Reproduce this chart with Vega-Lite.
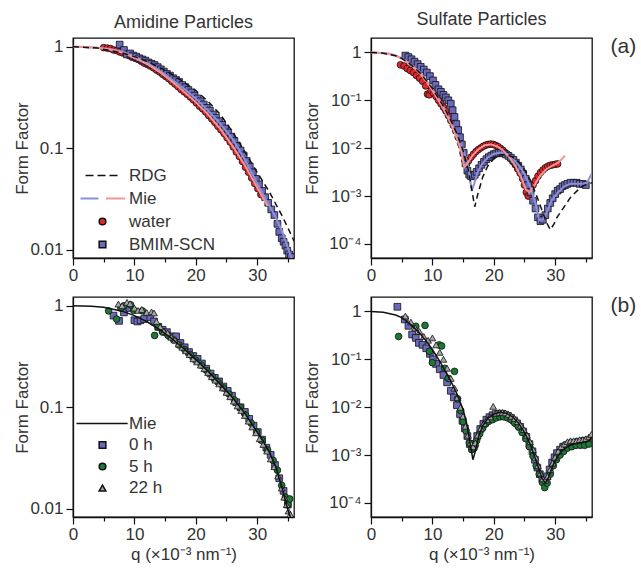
{
"$schema":"https://vega.github.io/schema/vega-lite/v6.json",
"background":"white",
"padding":{"left":13,"top":10,"right":0,"bottom":5},
"config":{
 "font":"Liberation Sans",
 "view":{"stroke":"#111","strokeWidth":1.3},
 "axis":{"domainColor":"#111","domainWidth":1.3,"tickColor":"#111","tickWidth":1.2,"labelColor":"#333","titleColor":"#333","labelFontSize":17,"titleFontSize":17,"titleFontWeight":"normal","grid":false},
 "title":{"fontSize":18,"fontWeight":"normal","color":"#333","offset":6},
 "legend":{"labelFontSize":17,"labelColor":"#333"}
},
"datasets":{
"tl":[
{"s":"water","q":5.0,"f":0.98},{"s":"water","q":5.6,"f":0.97},{"s":"water","q":6.1,"f":0.96},{"s":"water","q":6.6,"f":0.93},{"s":"water","q":7.1,"f":0.92},{"s":"water","q":7.6,"f":0.89},{"s":"water","q":8.1,"f":0.87},{"s":"water","q":8.6,"f":0.85},{"s":"water","q":9.1,"f":0.82},{"s":"water","q":9.6,"f":0.79},{"s":"water","q":10.1,"f":0.77},{"s":"water","q":10.6,"f":0.75},{"s":"water","q":11.1,"f":0.72},{"s":"water","q":11.6,"f":0.69},{"s":"water","q":12.1,"f":0.67},{"s":"water","q":12.6,"f":0.645},{"s":"water","q":13.1,"f":0.62},{"s":"water","q":13.6,"f":0.59},{"s":"water","q":14.1,"f":0.565},{"s":"water","q":14.6,"f":0.535},{"s":"water","q":15.1,"f":0.51},{"s":"water","q":15.6,"f":0.485},{"s":"water","q":16.1,"f":0.455},{"s":"water","q":16.6,"f":0.43},{"s":"water","q":17.1,"f":0.405},{"s":"water","q":17.6,"f":0.38},{"s":"water","q":18.1,"f":0.36},{"s":"water","q":18.6,"f":0.34},{"s":"water","q":19.1,"f":0.32},{"s":"water","q":19.6,"f":0.3},{"s":"water","q":20.1,"f":0.28},{"s":"water","q":20.6,"f":0.26},{"s":"water","q":21.1,"f":0.245},{"s":"water","q":21.6,"f":0.228},{"s":"water","q":22.1,"f":0.21},{"s":"water","q":22.6,"f":0.195},{"s":"water","q":23.1,"f":0.18},{"s":"water","q":23.6,"f":0.165},{"s":"water","q":24.1,"f":0.152},{"s":"water","q":24.6,"f":0.14},{"s":"water","q":25.1,"f":0.127},{"s":"water","q":25.6,"f":0.115},{"s":"water","q":26.1,"f":0.103},{"s":"water","q":26.6,"f":0.092},{"s":"water","q":27.1,"f":0.083},{"s":"water","q":27.6,"f":0.074},{"s":"water","q":28.1,"f":0.065},{"s":"water","q":28.6,"f":0.058},{"s":"water","q":29.1,"f":0.051},{"s":"water","q":29.6,"f":0.045},{"s":"water","q":30.1,"f":0.04},{"s":"water","q":30.6,"f":0.035},
{"s":"BMIM-SCN","q":7.6,"f":1.05},{"s":"BMIM-SCN","q":8.3,"f":0.93},{"s":"BMIM-SCN","q":8.8,"f":0.84},{"s":"BMIM-SCN","q":9.3,"f":0.86},{"s":"BMIM-SCN","q":9.8,"f":0.82},{"s":"BMIM-SCN","q":10.3,"f":0.8},{"s":"BMIM-SCN","q":10.8,"f":0.77},{"s":"BMIM-SCN","q":11.3,"f":0.75},{"s":"BMIM-SCN","q":11.8,"f":0.73},{"s":"BMIM-SCN","q":12.3,"f":0.7},{"s":"BMIM-SCN","q":12.8,"f":0.68},{"s":"BMIM-SCN","q":13.3,"f":0.66},{"s":"BMIM-SCN","q":13.8,"f":0.63},{"s":"BMIM-SCN","q":14.3,"f":0.6},{"s":"BMIM-SCN","q":14.8,"f":0.57},{"s":"BMIM-SCN","q":15.3,"f":0.54},{"s":"BMIM-SCN","q":15.8,"f":0.52},{"s":"BMIM-SCN","q":16.3,"f":0.49},{"s":"BMIM-SCN","q":16.8,"f":0.47},{"s":"BMIM-SCN","q":17.3,"f":0.45},{"s":"BMIM-SCN","q":17.8,"f":0.42},{"s":"BMIM-SCN","q":18.3,"f":0.4},{"s":"BMIM-SCN","q":18.8,"f":0.375},{"s":"BMIM-SCN","q":19.3,"f":0.355},{"s":"BMIM-SCN","q":19.8,"f":0.33},{"s":"BMIM-SCN","q":20.3,"f":0.31},{"s":"BMIM-SCN","q":20.8,"f":0.29},{"s":"BMIM-SCN","q":21.3,"f":0.27},{"s":"BMIM-SCN","q":21.8,"f":0.25},{"s":"BMIM-SCN","q":22.3,"f":0.235},{"s":"BMIM-SCN","q":22.8,"f":0.215},{"s":"BMIM-SCN","q":23.3,"f":0.2},{"s":"BMIM-SCN","q":23.8,"f":0.185},{"s":"BMIM-SCN","q":24.3,"f":0.17},{"s":"BMIM-SCN","q":24.8,"f":0.157},{"s":"BMIM-SCN","q":25.3,"f":0.143},{"s":"BMIM-SCN","q":25.8,"f":0.13},{"s":"BMIM-SCN","q":26.3,"f":0.118},{"s":"BMIM-SCN","q":26.8,"f":0.105},{"s":"BMIM-SCN","q":27.3,"f":0.095},{"s":"BMIM-SCN","q":27.8,"f":0.085},{"s":"BMIM-SCN","q":28.3,"f":0.075},{"s":"BMIM-SCN","q":28.8,"f":0.066},{"s":"BMIM-SCN","q":29.3,"f":0.058},{"s":"BMIM-SCN","q":29.8,"f":0.05},{"s":"BMIM-SCN","q":30.3,"f":0.044},{"s":"BMIM-SCN","q":30.8,"f":0.038},{"s":"BMIM-SCN","q":31.3,"f":0.033},{"s":"BMIM-SCN","q":31.8,"f":0.029},{"s":"BMIM-SCN","q":32.3,"f":0.025},{"s":"BMIM-SCN","q":32.8,"f":0.022},{"s":"BMIM-SCN","q":33.3,"f":0.018},{"s":"BMIM-SCN","q":33.6,"f":0.015},{"s":"BMIM-SCN","q":34.0,"f":0.013},{"s":"BMIM-SCN","q":34.3,"f":0.012},{"s":"BMIM-SCN","q":34.6,"f":0.011},{"s":"BMIM-SCN","q":34.9,"f":0.0098},{"s":"BMIM-SCN","q":35.2,"f":0.009},{"s":"BMIM-SCN","q":35.5,"f":0.0085},
{"s":"MieB","q":0,"f":1},{"s":"MieB","q":2,"f":0.995},{"s":"MieB","q":4,"f":0.98},{"s":"MieB","q":6,"f":0.95},{"s":"MieB","q":8,"f":0.9},{"s":"MieB","q":10,"f":0.8},{"s":"MieB","q":12,"f":0.7},{"s":"MieB","q":14,"f":0.59},{"s":"MieB","q":16,"f":0.48},{"s":"MieB","q":18,"f":0.39},{"s":"MieB","q":20,"f":0.31},{"s":"MieB","q":22,"f":0.235},{"s":"MieB","q":24,"f":0.175},{"s":"MieB","q":26,"f":0.123},{"s":"MieB","q":28,"f":0.077},{"s":"MieB","q":30,"f":0.045},{"s":"MieB","q":31,"f":0.035},{"s":"MieB","q":32,"f":0.027},{"s":"MieB","q":33,"f":0.021},{"s":"MieB","q":34,"f":0.0155},{"s":"MieB","q":35,"f":0.0105},{"s":"MieB","q":35.6,"f":0.0083},
{"s":"MieW","q":0,"f":1},{"s":"MieW","q":2,"f":0.995},{"s":"MieW","q":4,"f":0.975},{"s":"MieW","q":6,"f":0.94},{"s":"MieW","q":8,"f":0.88},{"s":"MieW","q":10,"f":0.78},{"s":"MieW","q":12,"f":0.68},{"s":"MieW","q":14,"f":0.57},{"s":"MieW","q":16,"f":0.46},{"s":"MieW","q":18,"f":0.365},{"s":"MieW","q":20,"f":0.285},{"s":"MieW","q":22,"f":0.215},{"s":"MieW","q":24,"f":0.155},{"s":"MieW","q":26,"f":0.105},{"s":"MieW","q":28,"f":0.068},{"s":"MieW","q":30,"f":0.041},{"s":"MieW","q":31,"f":0.032},{"s":"MieW","q":31.7,"f":0.027},
{"s":"RDG","q":0,"f":1},{"s":"RDG","q":4,"f":0.97},{"s":"RDG","q":8,"f":0.87},{"s":"RDG","q":10,"f":0.8},{"s":"RDG","q":12,"f":0.72},{"s":"RDG","q":14,"f":0.63},{"s":"RDG","q":16,"f":0.54},{"s":"RDG","q":18,"f":0.45},{"s":"RDG","q":20,"f":0.37},{"s":"RDG","q":22,"f":0.29},{"s":"RDG","q":24,"f":0.215},{"s":"RDG","q":26,"f":0.145},{"s":"RDG","q":28,"f":0.092},{"s":"RDG","q":30,"f":0.058},{"s":"RDG","q":32,"f":0.037},{"s":"RDG","q":34,"f":0.022},{"s":"RDG","q":35,"f":0.0165},{"s":"RDG","q":36,"f":0.0122}
],
"tr":[
{"s":"water","q":4.8,"f":0.55},{"s":"water","q":5.4,"f":0.52},{"s":"water","q":5.9,"f":0.46},{"s":"water","q":6.4,"f":0.42},{"s":"water","q":6.9,"f":0.38},{"s":"water","q":7.4,"f":0.33},{"s":"water","q":7.9,"f":0.29},{"s":"water","q":8.4,"f":0.25},{"s":"water","q":8.9,"f":0.2},{"s":"water","q":9.2,"f":0.135},{"s":"water","q":9.5,"f":0.13},{"s":"water","q":9.8,"f":0.16},{"s":"water","q":10.2,"f":0.14},{"s":"water","q":10.6,"f":0.12},{"s":"water","q":11.0,"f":0.1},{"s":"water","q":11.4,"f":0.085},{"s":"water","q":11.8,"f":0.072},{"s":"water","q":12.2,"f":0.06},{"s":"water","q":12.6,"f":0.048},{"s":"water","q":13.0,"f":0.038},{"s":"water","q":13.4,"f":0.03},{"s":"water","q":13.8,"f":0.023},{"s":"water","q":14.2,"f":0.017},{"s":"water","q":14.6,"f":0.0125},{"s":"water","q":15.0,"f":0.008},{"s":"water","q":15.3,"f":0.0055},{"s":"water","q":15.6,"f":0.0048},{"s":"water","q":15.9,"f":0.0055},{"s":"water","q":16.3,"f":0.0065},{"s":"water","q":16.7,"f":0.0075},{"s":"water","q":17.1,"f":0.0085},{"s":"water","q":17.5,"f":0.0094},{"s":"water","q":17.9,"f":0.0102},{"s":"water","q":18.3,"f":0.011},{"s":"water","q":18.7,"f":0.0116},{"s":"water","q":19.1,"f":0.012},{"s":"water","q":19.5,"f":0.0122},{"s":"water","q":19.9,"f":0.012},{"s":"water","q":20.3,"f":0.0115},{"s":"water","q":20.7,"f":0.0108},{"s":"water","q":21.1,"f":0.0099},{"s":"water","q":21.5,"f":0.009},{"s":"water","q":21.9,"f":0.008},{"s":"water","q":22.3,"f":0.0071},{"s":"water","q":22.7,"f":0.0062},{"s":"water","q":23.1,"f":0.0053},{"s":"water","q":23.5,"f":0.0045},{"s":"water","q":23.9,"f":0.0037},{"s":"water","q":24.3,"f":0.003},{"s":"water","q":24.7,"f":0.0023},{"s":"water","q":25.0,"f":0.0017},{"s":"water","q":25.3,"f":0.0012},{"s":"water","q":25.6,"f":0.001},{"s":"water","q":26.0,"f":0.0013},{"s":"water","q":26.4,"f":0.0017},{"s":"water","q":26.8,"f":0.0021},{"s":"water","q":27.2,"f":0.0026},{"s":"water","q":27.6,"f":0.0031},{"s":"water","q":28.0,"f":0.0035},{"s":"water","q":28.4,"f":0.0039},{"s":"water","q":28.8,"f":0.0042},{"s":"water","q":29.2,"f":0.0044},{"s":"water","q":29.6,"f":0.0045},{"s":"water","q":30.0,"f":0.0046},{"s":"water","q":30.4,"f":0.0047},
{"s":"BMIM-SCN","q":5.6,"f":0.86},{"s":"BMIM-SCN","q":6.1,"f":0.8},{"s":"BMIM-SCN","q":6.6,"f":0.72},{"s":"BMIM-SCN","q":7.1,"f":0.64},{"s":"BMIM-SCN","q":7.6,"f":0.57},{"s":"BMIM-SCN","q":8.1,"f":0.5},{"s":"BMIM-SCN","q":8.6,"f":0.44},{"s":"BMIM-SCN","q":9.1,"f":0.38},{"s":"BMIM-SCN","q":9.6,"f":0.32},{"s":"BMIM-SCN","q":10.1,"f":0.26},{"s":"BMIM-SCN","q":10.5,"f":0.21},{"s":"BMIM-SCN","q":11.0,"f":0.17},{"s":"BMIM-SCN","q":11.4,"f":0.15},{"s":"BMIM-SCN","q":11.8,"f":0.13},{"s":"BMIM-SCN","q":12.2,"f":0.115},{"s":"BMIM-SCN","q":12.6,"f":0.1},{"s":"BMIM-SCN","q":13.0,"f":0.085},{"s":"BMIM-SCN","q":13.3,"f":0.062},{"s":"BMIM-SCN","q":13.6,"f":0.045},{"s":"BMIM-SCN","q":13.9,"f":0.032},{"s":"BMIM-SCN","q":14.2,"f":0.024},{"s":"BMIM-SCN","q":14.5,"f":0.017},{"s":"BMIM-SCN","q":14.8,"f":0.012},{"s":"BMIM-SCN","q":15.1,"f":0.008},{"s":"BMIM-SCN","q":15.4,"f":0.0048},{"s":"BMIM-SCN","q":15.7,"f":0.0034},{"s":"BMIM-SCN","q":16.0,"f":0.0028},{"s":"BMIM-SCN","q":16.3,"f":0.0026},{"s":"BMIM-SCN","q":16.6,"f":0.0026},{"s":"BMIM-SCN","q":16.9,"f":0.0028},{"s":"BMIM-SCN","q":17.2,"f":0.0032},{"s":"BMIM-SCN","q":17.6,"f":0.0038},{"s":"BMIM-SCN","q":18.0,"f":0.0045},{"s":"BMIM-SCN","q":18.4,"f":0.0052},{"s":"BMIM-SCN","q":18.8,"f":0.0059},{"s":"BMIM-SCN","q":19.2,"f":0.0065},{"s":"BMIM-SCN","q":19.6,"f":0.007},{"s":"BMIM-SCN","q":20.0,"f":0.0075},{"s":"BMIM-SCN","q":20.4,"f":0.0078},{"s":"BMIM-SCN","q":20.8,"f":0.008},{"s":"BMIM-SCN","q":21.2,"f":0.008},{"s":"BMIM-SCN","q":21.6,"f":0.0078},{"s":"BMIM-SCN","q":22.0,"f":0.0074},{"s":"BMIM-SCN","q":22.4,"f":0.0069},{"s":"BMIM-SCN","q":22.8,"f":0.0063},{"s":"BMIM-SCN","q":23.2,"f":0.0057},{"s":"BMIM-SCN","q":23.6,"f":0.005},{"s":"BMIM-SCN","q":24.0,"f":0.0043},{"s":"BMIM-SCN","q":24.4,"f":0.0036},{"s":"BMIM-SCN","q":24.8,"f":0.0029},{"s":"BMIM-SCN","q":25.2,"f":0.0023},{"s":"BMIM-SCN","q":25.6,"f":0.0017},{"s":"BMIM-SCN","q":26.0,"f":0.0012},{"s":"BMIM-SCN","q":26.4,"f":0.0008},{"s":"BMIM-SCN","q":26.8,"f":0.00055},{"s":"BMIM-SCN","q":27.2,"f":0.00036},{"s":"BMIM-SCN","q":27.6,"f":0.0003},{"s":"BMIM-SCN","q":28.0,"f":0.00032},{"s":"BMIM-SCN","q":28.4,"f":0.0004},{"s":"BMIM-SCN","q":28.8,"f":0.00055},{"s":"BMIM-SCN","q":29.2,"f":0.00072},{"s":"BMIM-SCN","q":29.6,"f":0.0009},{"s":"BMIM-SCN","q":30.0,"f":0.0011},{"s":"BMIM-SCN","q":30.4,"f":0.0013},{"s":"BMIM-SCN","q":30.8,"f":0.0014},{"s":"BMIM-SCN","q":31.2,"f":0.0016},{"s":"BMIM-SCN","q":31.6,"f":0.0017},{"s":"BMIM-SCN","q":32.0,"f":0.0018},{"s":"BMIM-SCN","q":32.5,"f":0.0019},{"s":"BMIM-SCN","q":33.0,"f":0.0019},{"s":"BMIM-SCN","q":33.5,"f":0.0019},{"s":"BMIM-SCN","q":34.0,"f":0.0018},{"s":"BMIM-SCN","q":34.5,"f":0.0018},{"s":"BMIM-SCN","q":35.0,"f":0.0017},
{"s":"MieB","q":0,"f":1},{"s":"MieB","q":2,"f":0.97},{"s":"MieB","q":3,"f":0.94},{"s":"MieB","q":4,"f":0.86},{"s":"MieB","q":5,"f":0.76},{"s":"MieB","q":6,"f":0.63},{"s":"MieB","q":7,"f":0.5},{"s":"MieB","q":8,"f":0.38},{"s":"MieB","q":9,"f":0.26},{"s":"MieB","q":10,"f":0.17},{"s":"MieB","q":11,"f":0.11},{"s":"MieB","q":12,"f":0.066},{"s":"MieB","q":13,"f":0.037},{"s":"MieB","q":14,"f":0.019},{"s":"MieB","q":15,"f":0.0095},{"s":"MieB","q":15.6,"f":0.0055},{"s":"MieB","q":16.0,"f":0.003},{"s":"MieB","q":16.4,"f":0.0013},{"s":"MieB","q":16.8,"f":0.0018},{"s":"MieB","q":17.3,"f":0.003},{"s":"MieB","q":18,"f":0.0045},{"s":"MieB","q":19,"f":0.0064},{"s":"MieB","q":20,"f":0.0076},{"s":"MieB","q":21,"f":0.0081},{"s":"MieB","q":22,"f":0.0076},{"s":"MieB","q":23,"f":0.0062},{"s":"MieB","q":24,"f":0.0046},{"s":"MieB","q":25,"f":0.0029},{"s":"MieB","q":26,"f":0.0015},{"s":"MieB","q":26.8,"f":0.0007},{"s":"MieB","q":27.4,"f":0.00031},{"s":"MieB","q":28,"f":0.00033},{"s":"MieB","q":28.6,"f":0.00045},{"s":"MieB","q":29.5,"f":0.00085},{"s":"MieB","q":30.5,"f":0.0012},{"s":"MieB","q":31.5,"f":0.0016},{"s":"MieB","q":32.5,"f":0.0018},{"s":"MieB","q":33.5,"f":0.0018},{"s":"MieB","q":34.5,"f":0.0018},{"s":"MieB","q":35.2,"f":0.0019},{"s":"MieB","q":35.6,"f":0.0024},{"s":"MieB","q":36,"f":0.003},
{"s":"MieW","q":0,"f":1},{"s":"MieW","q":2,"f":0.965},{"s":"MieW","q":3,"f":0.93},{"s":"MieW","q":4,"f":0.85},{"s":"MieW","q":5,"f":0.74},{"s":"MieW","q":6,"f":0.61},{"s":"MieW","q":7,"f":0.48},{"s":"MieW","q":8,"f":0.36},{"s":"MieW","q":9,"f":0.25},{"s":"MieW","q":10,"f":0.16},{"s":"MieW","q":11,"f":0.1},{"s":"MieW","q":12,"f":0.06},{"s":"MieW","q":13,"f":0.033},{"s":"MieW","q":14,"f":0.016},{"s":"MieW","q":14.7,"f":0.0085},{"s":"MieW","q":15.2,"f":0.004},{"s":"MieW","q":15.8,"f":0.005},{"s":"MieW","q":16.5,"f":0.007},{"s":"MieW","q":17.5,"f":0.0095},{"s":"MieW","q":18.5,"f":0.0115},{"s":"MieW","q":19.5,"f":0.012},{"s":"MieW","q":20.5,"f":0.011},{"s":"MieW","q":21.5,"f":0.009},{"s":"MieW","q":22.5,"f":0.0066},{"s":"MieW","q":23.5,"f":0.0043},{"s":"MieW","q":24.5,"f":0.0024},{"s":"MieW","q":25.2,"f":0.0014},{"s":"MieW","q":25.8,"f":0.0012},{"s":"MieW","q":26.5,"f":0.0016},{"s":"MieW","q":27.5,"f":0.0026},{"s":"MieW","q":28.5,"f":0.0036},{"s":"MieW","q":29.5,"f":0.0043},{"s":"MieW","q":30.5,"f":0.005},{"s":"MieW","q":31,"f":0.0058},{"s":"MieW","q":31.6,"f":0.007},
{"s":"RDG","q":0,"f":1},{"s":"RDG","q":2,"f":0.965},{"s":"RDG","q":4,"f":0.85},{"s":"RDG","q":5,"f":0.75},{"s":"RDG","q":6,"f":0.62},{"s":"RDG","q":7,"f":0.49},{"s":"RDG","q":8,"f":0.37},{"s":"RDG","q":9,"f":0.26},{"s":"RDG","q":10,"f":0.175},{"s":"RDG","q":11,"f":0.11},{"s":"RDG","q":12,"f":0.068},{"s":"RDG","q":13,"f":0.038},{"s":"RDG","q":14,"f":0.02},{"s":"RDG","q":15,"f":0.009},{"s":"RDG","q":15.8,"f":0.0038},{"s":"RDG","q":16.4,"f":0.0014},{"s":"RDG","q":16.9,"f":0.0006},{"s":"RDG","q":17.4,"f":0.0011},{"s":"RDG","q":18.2,"f":0.0025},{"s":"RDG","q":19,"f":0.0042},{"s":"RDG","q":20,"f":0.006},{"s":"RDG","q":21,"f":0.0072},{"s":"RDG","q":22,"f":0.0074},{"s":"RDG","q":23,"f":0.0066},{"s":"RDG","q":24,"f":0.0052},{"s":"RDG","q":25,"f":0.0036},{"s":"RDG","q":26,"f":0.0021},{"s":"RDG","q":27,"f":0.001},{"s":"RDG","q":28,"f":0.00045},{"s":"RDG","q":28.6,"f":0.00028},{"s":"RDG","q":29.2,"f":0.0002},{"s":"RDG","q":29.8,"f":0.00026},{"s":"RDG","q":30.3,"f":0.00036},{"s":"RDG","q":31.4,"f":0.00058},{"s":"RDG","q":32.5,"f":0.00094},{"s":"RDG","q":33.6,"f":0.0013},{"s":"RDG","q":34.6,"f":0.00165},{"s":"RDG","q":35.5,"f":0.0018},{"s":"RDG","q":36,"f":0.0019}
],
"bl":[
{"s":"0 h","q":6.6,"f":0.8},{"s":"0 h","q":7.5,"f":0.71},{"s":"0 h","q":8.3,"f":0.86},{"s":"0 h","q":9.2,"f":0.95},{"s":"0 h","q":10.0,"f":0.72},{"s":"0 h","q":10.5,"f":0.7},{"s":"0 h","q":11.0,"f":0.72},{"s":"0 h","q":11.6,"f":0.74},{"s":"0 h","q":12.6,"f":0.77},{"s":"0 h","q":13.2,"f":0.7},{"s":"0 h","q":13.9,"f":0.62},{"s":"0 h","q":14.6,"f":0.58},{"s":"0 h","q":15.3,"f":0.55},{"s":"0 h","q":16.0,"f":0.5},{"s":"0 h","q":16.8,"f":0.5},{"s":"0 h","q":17.5,"f":0.43},{"s":"0 h","q":18.2,"f":0.39},{"s":"0 h","q":18.9,"f":0.35},{"s":"0 h","q":19.6,"f":0.32},{"s":"0 h","q":20.3,"f":0.3},{"s":"0 h","q":21.0,"f":0.27},{"s":"0 h","q":21.7,"f":0.24},{"s":"0 h","q":22.4,"f":0.215},{"s":"0 h","q":23.1,"f":0.195},{"s":"0 h","q":23.8,"f":0.18},{"s":"0 h","q":24.5,"f":0.16},{"s":"0 h","q":25.2,"f":0.145},{"s":"0 h","q":25.9,"f":0.13},{"s":"0 h","q":26.6,"f":0.112},{"s":"0 h","q":27.3,"f":0.1},{"s":"0 h","q":28.0,"f":0.09},{"s":"0 h","q":28.7,"f":0.077},{"s":"0 h","q":29.4,"f":0.066},{"s":"0 h","q":30.1,"f":0.057},{"s":"0 h","q":30.8,"f":0.048},{"s":"0 h","q":31.5,"f":0.04},{"s":"0 h","q":32.2,"f":0.034},{"s":"0 h","q":32.9,"f":0.027},{"s":"0 h","q":33.6,"f":0.02},{"s":"0 h","q":34.3,"f":0.015},{"s":"0 h","q":35.0,"f":0.011},
{"s":"5 h","q":5.8,"f":0.89},{"s":"5 h","q":7.1,"f":0.74},{"s":"5 h","q":7.8,"f":0.95},{"s":"5 h","q":8.3,"f":1.0},{"s":"5 h","q":9.4,"f":1.02},{"s":"5 h","q":9.9,"f":0.9},{"s":"5 h","q":11.3,"f":0.89},{"s":"5 h","q":13.3,"f":0.51},{"s":"5 h","q":13.8,"f":0.62},{"s":"5 h","q":14.6,"f":0.55},{"s":"5 h","q":15.5,"f":0.51},{"s":"5 h","q":16.4,"f":0.46},{"s":"5 h","q":17.3,"f":0.41},{"s":"5 h","q":18.2,"f":0.37},{"s":"5 h","q":19.1,"f":0.33},{"s":"5 h","q":20.0,"f":0.29},{"s":"5 h","q":20.9,"f":0.26},{"s":"5 h","q":21.8,"f":0.23},{"s":"5 h","q":22.7,"f":0.2},{"s":"5 h","q":23.6,"f":0.178},{"s":"5 h","q":24.5,"f":0.155},{"s":"5 h","q":25.4,"f":0.135},{"s":"5 h","q":26.3,"f":0.118},{"s":"5 h","q":27.2,"f":0.1},{"s":"5 h","q":28.1,"f":0.084},{"s":"5 h","q":29.0,"f":0.07},{"s":"5 h","q":29.9,"f":0.057},{"s":"5 h","q":30.8,"f":0.047},{"s":"5 h","q":31.7,"f":0.038},{"s":"5 h","q":32.6,"f":0.03},{"s":"5 h","q":33.3,"f":0.024},{"s":"5 h","q":34.0,"f":0.017},{"s":"5 h","q":34.6,"f":0.013},{"s":"5 h","q":35.0,"f":0.011},{"s":"5 h","q":35.3,"f":0.0125},
{"s":"22 h","q":7.4,"f":1.04},{"s":"22 h","q":8.0,"f":1.0},{"s":"22 h","q":8.8,"f":1.08},{"s":"22 h","q":9.3,"f":1.05},{"s":"22 h","q":10.0,"f":0.95},{"s":"22 h","q":10.6,"f":0.9},{"s":"22 h","q":11.2,"f":0.92},{"s":"22 h","q":12.0,"f":0.86},{"s":"22 h","q":12.8,"f":0.87},{"s":"22 h","q":13.2,"f":0.85},{"s":"22 h","q":13.6,"f":0.7},{"s":"22 h","q":14.2,"f":0.62},{"s":"22 h","q":14.8,"f":0.56},{"s":"22 h","q":15.4,"f":0.54},{"s":"22 h","q":16.0,"f":0.49},{"s":"22 h","q":16.6,"f":0.46},{"s":"22 h","q":17.2,"f":0.42},{"s":"22 h","q":17.8,"f":0.39},{"s":"22 h","q":18.4,"f":0.36},{"s":"22 h","q":19.0,"f":0.33},{"s":"22 h","q":19.6,"f":0.3},{"s":"22 h","q":20.2,"f":0.28},{"s":"22 h","q":20.8,"f":0.26},{"s":"22 h","q":21.4,"f":0.24},{"s":"22 h","q":22.0,"f":0.22},{"s":"22 h","q":22.6,"f":0.2},{"s":"22 h","q":23.2,"f":0.185},{"s":"22 h","q":23.8,"f":0.17},{"s":"22 h","q":24.4,"f":0.155},{"s":"22 h","q":25.0,"f":0.14},{"s":"22 h","q":25.6,"f":0.127},{"s":"22 h","q":26.2,"f":0.115},{"s":"22 h","q":26.8,"f":0.103},{"s":"22 h","q":27.4,"f":0.093},{"s":"22 h","q":28.0,"f":0.083},{"s":"22 h","q":28.6,"f":0.073},{"s":"22 h","q":29.2,"f":0.064},{"s":"22 h","q":29.8,"f":0.056},{"s":"22 h","q":30.4,"f":0.049},{"s":"22 h","q":31.0,"f":0.043},{"s":"22 h","q":31.6,"f":0.037},{"s":"22 h","q":32.2,"f":0.031},{"s":"22 h","q":32.8,"f":0.026},{"s":"22 h","q":33.4,"f":0.021},{"s":"22 h","q":34.0,"f":0.016},{"s":"22 h","q":34.4,"f":0.013},{"s":"22 h","q":34.8,"f":0.011},{"s":"22 h","q":35.1,"f":0.0095},{"s":"22 h","q":35.4,"f":0.0088},
{"s":"MieL","q":0,"f":1},{"s":"MieL","q":3,"f":0.99},{"s":"MieL","q":5,"f":0.965},{"s":"MieL","q":8,"f":0.885},{"s":"MieL","q":10,"f":0.8},{"s":"MieL","q":12,"f":0.7},{"s":"MieL","q":14,"f":0.59},{"s":"MieL","q":16,"f":0.48},{"s":"MieL","q":18,"f":0.38},{"s":"MieL","q":20,"f":0.295},{"s":"MieL","q":22,"f":0.225},{"s":"MieL","q":24,"f":0.168},{"s":"MieL","q":26,"f":0.124},{"s":"MieL","q":28,"f":0.087},{"s":"MieL","q":30,"f":0.057},{"s":"MieL","q":31,"f":0.046},{"s":"MieL","q":32,"f":0.036},{"s":"MieL","q":33,"f":0.026},{"s":"MieL","q":34,"f":0.0165},{"s":"MieL","q":35,"f":0.0098},{"s":"MieL","q":35.4,"f":0.0083}
],
"br":[
{"s":"0 h","q":4.3,"f":1.25},{"s":"0 h","q":5.5,"f":0.68},{"s":"0 h","q":6.1,"f":0.5},{"s":"0 h","q":6.7,"f":0.33},{"s":"0 h","q":7.3,"f":0.28},{"s":"0 h","q":7.8,"f":0.22},{"s":"0 h","q":8.4,"f":0.2},{"s":"0 h","q":9.0,"f":0.17},{"s":"0 h","q":9.6,"f":0.13},{"s":"0 h","q":10.1,"f":0.1},{"s":"0 h","q":10.6,"f":0.08},{"s":"0 h","q":11.2,"f":0.062},{"s":"0 h","q":11.8,"f":0.047},{"s":"0 h","q":12.4,"f":0.033},{"s":"0 h","q":13.0,"f":0.022},{"s":"0 h","q":13.5,"f":0.016},{"s":"0 h","q":14.0,"f":0.011},{"s":"0 h","q":14.5,"f":0.0072},{"s":"0 h","q":14.9,"f":0.0052},{"s":"0 h","q":15.3,"f":0.0036},{"s":"0 h","q":15.7,"f":0.0025},{"s":"0 h","q":16.1,"f":0.0017},{"s":"0 h","q":16.5,"f":0.0015},{"s":"0 h","q":16.9,"f":0.0017},{"s":"0 h","q":17.3,"f":0.0025},{"s":"0 h","q":17.8,"f":0.0035},{"s":"0 h","q":18.3,"f":0.0045},{"s":"0 h","q":18.8,"f":0.0055},{"s":"0 h","q":19.3,"f":0.0062},{"s":"0 h","q":19.8,"f":0.0068},{"s":"0 h","q":20.3,"f":0.0072},{"s":"0 h","q":20.8,"f":0.0073},{"s":"0 h","q":21.3,"f":0.0073},{"s":"0 h","q":21.8,"f":0.007},{"s":"0 h","q":22.3,"f":0.0066},{"s":"0 h","q":22.8,"f":0.006},{"s":"0 h","q":23.3,"f":0.0053},{"s":"0 h","q":23.8,"f":0.0046},{"s":"0 h","q":24.3,"f":0.0039},{"s":"0 h","q":24.8,"f":0.0031},{"s":"0 h","q":25.3,"f":0.0024},{"s":"0 h","q":25.8,"f":0.0017},{"s":"0 h","q":26.3,"f":0.0012},{"s":"0 h","q":26.7,"f":0.0008},{"s":"0 h","q":27.1,"f":0.00055},{"s":"0 h","q":27.5,"f":0.0004},{"s":"0 h","q":27.9,"f":0.00033},{"s":"0 h","q":28.3,"f":0.00031},{"s":"0 h","q":28.7,"f":0.00036},{"s":"0 h","q":29.1,"f":0.0005},{"s":"0 h","q":29.5,"f":0.0007},{"s":"0 h","q":29.9,"f":0.0009},{"s":"0 h","q":30.3,"f":0.0011},{"s":"0 h","q":30.8,"f":0.0013},{"s":"0 h","q":31.3,"f":0.0015},{"s":"0 h","q":31.8,"f":0.0016},{"s":"0 h","q":32.3,"f":0.0017},{"s":"0 h","q":32.8,"f":0.0018},{"s":"0 h","q":33.3,"f":0.0018},{"s":"0 h","q":33.8,"f":0.0019},{"s":"0 h","q":34.3,"f":0.0019},{"s":"0 h","q":34.8,"f":0.002},{"s":"0 h","q":35.3,"f":0.002},
{"s":"5 h","q":4.5,"f":0.3},{"s":"5 h","q":7.3,"f":0.49},{"s":"5 h","q":8.8,"f":0.51},{"s":"5 h","q":9.5,"f":0.147},{"s":"5 h","q":10.0,"f":0.085},{"s":"5 h","q":11.1,"f":0.2},{"s":"5 h","q":11.5,"f":0.19},{"s":"5 h","q":12.0,"f":0.065},{"s":"5 h","q":12.6,"f":0.04},{"s":"5 h","q":13.6,"f":0.056},{"s":"5 h","q":14.1,"f":0.015},{"s":"5 h","q":14.6,"f":0.0085},{"s":"5 h","q":15.0,"f":0.005},{"s":"5 h","q":15.5,"f":0.0032},{"s":"5 h","q":16.0,"f":0.0018},{"s":"5 h","q":16.4,"f":0.0013},{"s":"5 h","q":16.8,"f":0.0014},{"s":"5 h","q":17.2,"f":0.002},{"s":"5 h","q":17.7,"f":0.0028},{"s":"5 h","q":18.2,"f":0.0037},{"s":"5 h","q":18.7,"f":0.0045},{"s":"5 h","q":19.2,"f":0.0051},{"s":"5 h","q":19.8,"f":0.0055},{"s":"5 h","q":20.4,"f":0.006},{"s":"5 h","q":21.0,"f":0.0063},{"s":"5 h","q":21.6,"f":0.0063},{"s":"5 h","q":22.2,"f":0.006},{"s":"5 h","q":22.8,"f":0.0055},{"s":"5 h","q":23.4,"f":0.0047},{"s":"5 h","q":24.0,"f":0.0039},{"s":"5 h","q":24.6,"f":0.003},{"s":"5 h","q":25.2,"f":0.0022},{"s":"5 h","q":25.8,"f":0.0015},{"s":"5 h","q":26.4,"f":0.00095},{"s":"5 h","q":26.9,"f":0.0006},{"s":"5 h","q":27.4,"f":0.0004},{"s":"5 h","q":27.9,"f":0.00027},{"s":"5 h","q":28.3,"f":0.00021},{"s":"5 h","q":28.7,"f":0.00026},{"s":"5 h","q":29.2,"f":0.0004},{"s":"5 h","q":29.7,"f":0.0006},{"s":"5 h","q":30.2,"f":0.0008},{"s":"5 h","q":30.8,"f":0.001},{"s":"5 h","q":31.4,"f":0.0012},{"s":"5 h","q":32.0,"f":0.0014},{"s":"5 h","q":32.7,"f":0.0015},{"s":"5 h","q":33.4,"f":0.0016},{"s":"5 h","q":34.1,"f":0.0016},{"s":"5 h","q":34.8,"f":0.0016},{"s":"5 h","q":35.5,"f":0.0017},
{"s":"22 h","q":5.6,"f":0.8},{"s":"22 h","q":6.5,"f":0.6},{"s":"22 h","q":7.2,"f":0.45},{"s":"22 h","q":7.9,"f":0.38},{"s":"22 h","q":8.6,"f":0.3},{"s":"22 h","q":9.3,"f":0.25},{"s":"22 h","q":10.0,"f":0.28},{"s":"22 h","q":10.6,"f":0.2},{"s":"22 h","q":11.2,"f":0.14},{"s":"22 h","q":11.8,"f":0.1},{"s":"22 h","q":12.4,"f":0.065},{"s":"22 h","q":13.0,"f":0.04},{"s":"22 h","q":13.6,"f":0.025},{"s":"22 h","q":14.1,"f":0.016},{"s":"22 h","q":14.6,"f":0.01},{"s":"22 h","q":15.0,"f":0.0065},{"s":"22 h","q":15.4,"f":0.004},{"s":"22 h","q":15.8,"f":0.0026},{"s":"22 h","q":16.2,"f":0.0018},{"s":"22 h","q":16.6,"f":0.0015},{"s":"22 h","q":17.0,"f":0.0018},{"s":"22 h","q":17.4,"f":0.0026},{"s":"22 h","q":17.9,"f":0.0036},{"s":"22 h","q":18.4,"f":0.0046},{"s":"22 h","q":18.9,"f":0.0055},{"s":"22 h","q":19.4,"f":0.0063},{"s":"22 h","q":19.9,"f":0.0104},{"s":"22 h","q":20.4,"f":0.0075},{"s":"22 h","q":20.9,"f":0.0078},{"s":"22 h","q":21.4,"f":0.0078},{"s":"22 h","q":21.9,"f":0.0076},{"s":"22 h","q":22.4,"f":0.0071},{"s":"22 h","q":22.9,"f":0.0065},{"s":"22 h","q":23.4,"f":0.0058},{"s":"22 h","q":23.9,"f":0.005},{"s":"22 h","q":24.4,"f":0.0042},{"s":"22 h","q":24.9,"f":0.0034},{"s":"22 h","q":25.4,"f":0.0026},{"s":"22 h","q":25.9,"f":0.0019},{"s":"22 h","q":26.4,"f":0.0013},{"s":"22 h","q":26.8,"f":0.0009},{"s":"22 h","q":27.2,"f":0.0006},{"s":"22 h","q":27.6,"f":0.00042},{"s":"22 h","q":28.0,"f":0.00032},{"s":"22 h","q":28.4,"f":0.0003},{"s":"22 h","q":28.8,"f":0.00036},{"s":"22 h","q":29.2,"f":0.0005},{"s":"22 h","q":29.6,"f":0.00068},{"s":"22 h","q":30.0,"f":0.0009},{"s":"22 h","q":30.5,"f":0.0012},{"s":"22 h","q":31.0,"f":0.0015},{"s":"22 h","q":31.5,"f":0.0017},{"s":"22 h","q":32.0,"f":0.0019},{"s":"22 h","q":32.5,"f":0.002},{"s":"22 h","q":33.0,"f":0.002},{"s":"22 h","q":33.5,"f":0.002},{"s":"22 h","q":34.0,"f":0.0021},{"s":"22 h","q":34.5,"f":0.0021},{"s":"22 h","q":35.0,"f":0.0022},{"s":"22 h","q":35.5,"f":0.0024},{"s":"22 h","q":35.9,"f":0.0027},
{"s":"MieL","q":0,"f":1},{"s":"MieL","q":2,"f":0.96},{"s":"MieL","q":4,"f":0.84},{"s":"MieL","q":5,"f":0.74},{"s":"MieL","q":6,"f":0.6},{"s":"MieL","q":7,"f":0.46},{"s":"MieL","q":8,"f":0.34},{"s":"MieL","q":9,"f":0.24},{"s":"MieL","q":10,"f":0.16},{"s":"MieL","q":11,"f":0.1},{"s":"MieL","q":12,"f":0.06},{"s":"MieL","q":13,"f":0.035},{"s":"MieL","q":14,"f":0.019},{"s":"MieL","q":15,"f":0.009},{"s":"MieL","q":15.6,"f":0.0045},{"s":"MieL","q":16.2,"f":0.0016},{"s":"MieL","q":16.6,"f":0.0008},{"s":"MieL","q":17.0,"f":0.0012},{"s":"MieL","q":17.5,"f":0.0024},{"s":"MieL","q":18.2,"f":0.0041},{"s":"MieL","q":19,"f":0.0058},{"s":"MieL","q":20,"f":0.0072},{"s":"MieL","q":21,"f":0.0078},{"s":"MieL","q":22,"f":0.0075},{"s":"MieL","q":23,"f":0.0064},{"s":"MieL","q":24,"f":0.0047},{"s":"MieL","q":25,"f":0.003},{"s":"MieL","q":26,"f":0.0016},{"s":"MieL","q":27,"f":0.0007},{"s":"MieL","q":27.8,"f":0.00034},{"s":"MieL","q":28.4,"f":0.00026},{"s":"MieL","q":29,"f":0.00036},{"s":"MieL","q":29.6,"f":0.0006},{"s":"MieL","q":30.3,"f":0.0009},{"s":"MieL","q":31,"f":0.0012},{"s":"MieL","q":32,"f":0.0015},{"s":"MieL","q":33,"f":0.0017},{"s":"MieL","q":34,"f":0.0018},{"s":"MieL","q":35,"f":0.0019},{"s":"MieL","q":35.5,"f":0.002},{"s":"MieL","q":36,"f":0.0024}
]
},
"spacing":9,
"resolve":{"scale":{"shape":"independent","fill":"independent","stroke":"independent","color":"independent"},"legend":{"shape":"independent","fill":"independent","stroke":"independent","color":"independent"}},
"vconcat":[
{"spacing":8,
 "resolve":{"scale":{"shape":"independent","fill":"independent","stroke":"independent","color":"independent"},"legend":{"shape":"independent","fill":"independent","stroke":"independent","color":"independent"}},
 "hconcat":[
 {"width":221,"height":220,"title":"Amidine Particles","data":{"name":"tl"},
  "encoding":{
   "x":{"field":"q","type":"quantitative","scale":{"domain":[0,36],"nice":false,"zero":false},"axis":{"title":null,"values":[0,5,10,15,20,25,30,35],"labelExpr":"datum.value % 10 === 0 ? datum.label : ''","tickSize":{"condition":{"test":"datum.value % 10 === 0","value":7},"value":4},"labelPadding":2,"labelOverlap":false,"labelFlush":false}},
   "y":{"field":"f","type":"quantitative","scale":{"type":"log","domain":[0.0083,1.22],"nice":false},"axis":{"title":"Form Factor","values":[1,0.1,0.01],"labelExpr":"datum.value > 0.5 ? '1' : (datum.value > 0.05 ? '0.1' : '0.01')","tickSize":7,"labelPadding":3,"titlePadding":-2,"labelOverlap":false}}
  },
  "layer":[
   {"transform":[{"filter":"datum.s === 'water' || datum.s === 'BMIM-SCN'"}],
    "mark":{"type":"point","filled":true,"size":45,"strokeWidth":0.8,"opacity":1,"clip":true},
    "encoding":{
     "shape":{"field":"s","type":"nominal","scale":{"domain":["RDG","Mie","water","BMIM-SCN"],"range":["M-5.06,-0.2H-2.68V0.2H-5.06ZM-1.49,-0.2H0.9V0.2H-1.49ZM2.09,-0.2H4.48V0.2H2.09Z","M-6.55,-0.3H-1.2V0.3H-6.55Z","circle","square"]},"legend":{"orient":"none","legendX":21,"legendY":129,"title":null,"padding":0,"labelFontSize":17,"labelOffset":18,"rowPadding":5,"symbolSize":45}},
     "fill":{"field":"s","type":"nominal","scale":{"domain":["RDG","Mie","water","BMIM-SCN"],"range":["#111","#8e8ed2","#e3262b","#6a6abb"]},"legend":{"orient":"none","legendX":21,"legendY":129,"title":null,"padding":0,"labelFontSize":17,"labelOffset":18,"rowPadding":5,"symbolSize":45}},
     "stroke":{"field":"s","type":"nominal","scale":{"domain":["RDG","Mie","water","BMIM-SCN"],"range":["transparent","transparent","#111","#111"]},"legend":{"orient":"none","legendX":21,"legendY":129,"title":null,"padding":0,"labelFontSize":17,"labelOffset":18,"rowPadding":5,"symbolSize":45}}
    }},
   {"transform":[{"filter":"datum.s === 'MieB'"}],"mark":{"type":"line","color":"#8e8ed2","strokeWidth":2,"clip":true},"encoding":{}},
   {"transform":[{"filter":"datum.s === 'MieW'"}],"mark":{"type":"line","strokeWidth":2,"clip":true},
    "encoding":{"color":{"field":"s","type":"nominal","scale":{"domain":["MieW"],"range":["#f39595"]},"legend":{"orient":"none","legendX":32,"legendY":150,"title":null,"padding":0,"labelExpr":"''","symbolType":"stroke","symbolSize":361,"symbolStrokeWidth":2}}}},
   {"transform":[{"filter":"datum.s === 'RDG'"}],"mark":{"type":"line","color":"#111","strokeWidth":1.5,"strokeDash":[6,4],"clip":true},"encoding":{}}
  ]},
 {"width":221,"height":220,"title":"Sulfate Particles","data":{"name":"tr"},
  "encoding":{
   "x":{"field":"q","type":"quantitative","scale":{"domain":[0,36],"nice":false,"zero":false},"axis":{"title":null,"values":[0,5,10,15,20,25,30,35],"labelExpr":"datum.value % 10 === 0 ? datum.label : ''","tickSize":{"condition":{"test":"datum.value % 10 === 0","value":7},"value":4},"labelPadding":2,"labelOverlap":false,"labelFlush":false}},
   "y":{"field":"f","type":"quantitative","scale":{"type":"log","domain":[0.000051,2.0],"nice":false},"axis":{"title":"Form Factor","values":[1,0.1,0.01,0.001,0.0001],"labelExpr":"datum.value > 0.5 ? '1' : datum.value > 0.05 ? '10⁻¹' : datum.value > 0.005 ? '10⁻²' : datum.value > 0.0005 ? '10⁻³' : '10⁻⁴'","tickSize":7,"labelPadding":3,"titlePadding":7,"labelOverlap":false}}
  },
  "resolve":{"axis":{"y":"independent"}},
  "layer":[
   {"layer":[
    {"transform":[{"filter":"datum.s === 'water' || datum.s === 'BMIM-SCN'"}],
     "mark":{"type":"point","filled":true,"size":45,"strokeWidth":0.8,"opacity":1,"clip":true,"stroke":"#111"},
     "encoding":{
      "shape":{"field":"s","type":"nominal","scale":{"domain":["water","BMIM-SCN"],"range":["circle","square"]},"legend":null},
      "fill":{"field":"s","type":"nominal","scale":{"domain":["water","BMIM-SCN"],"range":["#e3262b","#6a6abb"]},"legend":null}
     }},
    {"transform":[{"filter":"datum.s === 'MieB'"}],"mark":{"type":"line","color":"#8e8ed2","strokeWidth":2,"clip":true},"encoding":{}},
    {"transform":[{"filter":"datum.s === 'MieW'"}],"mark":{"type":"line","color":"#f39595","strokeWidth":2,"clip":true},"encoding":{}}
   ]},
   {"transform":[{"filter":"datum.s === 'RDG'"}],"mark":{"type":"line","color":"#111","strokeWidth":1.5,"strokeDash":[6,4],"clip":true},
    "encoding":{"y":{"field":"f","type":"quantitative","scale":{"type":"log","domain":[0.000051,2.0],"nice":false},"axis":{"orient":"right","title":"(a)","domain":false,"ticks":false,"labels":false,"titleAngle":0,"titleFontSize":21,"titleX":18,"titleY":8,"titleAlign":"left","titleBaseline":"middle"}}}}
  ]}
]},
{"spacing":8,
 "resolve":{"scale":{"shape":"independent","fill":"independent","stroke":"independent","color":"independent"},"legend":{"shape":"independent","fill":"independent","stroke":"independent","color":"independent"}},
 "hconcat":[
 {"width":221,"height":220,"data":{"name":"bl"},
  "encoding":{
   "x":{"field":"q","type":"quantitative","scale":{"domain":[0,36],"nice":false,"zero":false},"axis":{"title":"q (×10⁻³ nm⁻¹)","titlePadding":4,"values":[0,5,10,15,20,25,30,35],"labelExpr":"datum.value % 10 === 0 ? datum.label : ''","tickSize":{"condition":{"test":"datum.value % 10 === 0","value":7},"value":4},"labelPadding":2,"labelOverlap":false,"labelFlush":false}},
   "y":{"field":"f","type":"quantitative","scale":{"type":"log","domain":[0.0083,1.22],"nice":false},"axis":{"title":"Form Factor","values":[1,0.1,0.01],"labelExpr":"datum.value > 0.5 ? '1' : (datum.value > 0.05 ? '0.1' : '0.01')","tickSize":7,"labelPadding":3,"titlePadding":-2,"labelOverlap":false}}
  },
  "layer":[
   {"transform":[{"filter":"datum.s !== 'MieL'"}],
    "mark":{"type":"point","filled":true,"size":45,"strokeWidth":0.8,"opacity":1,"clip":true},
    "encoding":{
     "shape":{"field":"s","type":"nominal","scale":{"domain":["Mie","0 h","5 h","22 h"],"range":["M-7.76,-0.2H7.5V0.2H-7.76Z","square","circle","triangle-up"]},"legend":{"orient":"none","legendX":21,"legendY":118,"title":null,"padding":0,"labelFontSize":17,"labelOffset":18,"rowPadding":3.5,"symbolSize":45}},
     "fill":{"field":"s","type":"nominal","scale":{"domain":["Mie","0 h","5 h","22 h"],"range":["#111","#6a6abb","#1d7a36","#a5a5a5"]},"legend":{"orient":"none","legendX":21,"legendY":118,"title":null,"padding":0,"labelFontSize":17,"labelOffset":18,"rowPadding":3.5,"symbolSize":45}},
     "stroke":{"field":"s","type":"nominal","scale":{"domain":["Mie","0 h","5 h","22 h"],"range":["transparent","#111","#111","#111"]},"legend":{"orient":"none","legendX":21,"legendY":118,"title":null,"padding":0,"labelFontSize":17,"labelOffset":18,"rowPadding":3.5,"symbolSize":45}}
    }},
   {"transform":[{"filter":"datum.s === 'MieL'"}],"mark":{"type":"line","color":"#111","strokeWidth":1.5,"clip":true},"encoding":{}}
  ]},
 {"width":221,"height":220,"data":{"name":"br"},
  "encoding":{
   "x":{"field":"q","type":"quantitative","scale":{"domain":[0,36],"nice":false,"zero":false},"axis":{"title":"q (×10⁻³ nm⁻¹)","titlePadding":4,"values":[0,5,10,15,20,25,30,35],"labelExpr":"datum.value % 10 === 0 ? datum.label : ''","tickSize":{"condition":{"test":"datum.value % 10 === 0","value":7},"value":4},"labelPadding":2,"labelOverlap":false,"labelFlush":false}},
   "y":{"field":"f","type":"quantitative","scale":{"type":"log","domain":[0.000051,2.0],"nice":false},"axis":{"title":"Form Factor","values":[1,0.1,0.01,0.001,0.0001],"labelExpr":"datum.value > 0.5 ? '1' : datum.value > 0.05 ? '10⁻¹' : datum.value > 0.005 ? '10⁻²' : datum.value > 0.0005 ? '10⁻³' : '10⁻⁴'","tickSize":7,"labelPadding":3,"titlePadding":7,"labelOverlap":false}}
  },
  "resolve":{"axis":{"y":"independent"}},
  "layer":[
   {"transform":[{"filter":"datum.s !== 'MieL'"}],
    "mark":{"type":"point","filled":true,"size":45,"strokeWidth":0.8,"opacity":1,"clip":true,"stroke":"#111"},
    "encoding":{
     "shape":{"field":"s","type":"nominal","scale":{"domain":["0 h","5 h","22 h"],"range":["square","circle","triangle-up"]},"legend":null},
     "fill":{"field":"s","type":"nominal","scale":{"domain":["0 h","5 h","22 h"],"range":["#6a6abb","#1d7a36","#a5a5a5"]},"legend":null}
    }},
   {"transform":[{"filter":"datum.s === 'MieL'"}],"mark":{"type":"line","color":"#111","strokeWidth":1.5,"clip":true},
    "encoding":{"y":{"field":"f","type":"quantitative","scale":{"type":"log","domain":[0.000051,2.0],"nice":false},"axis":{"orient":"right","title":"(b)","domain":false,"ticks":false,"labels":false,"titleAngle":0,"titleFontSize":21,"titleX":18,"titleY":8,"titleAlign":"left","titleBaseline":"middle"}}}}
  ]}
]}
]
}
